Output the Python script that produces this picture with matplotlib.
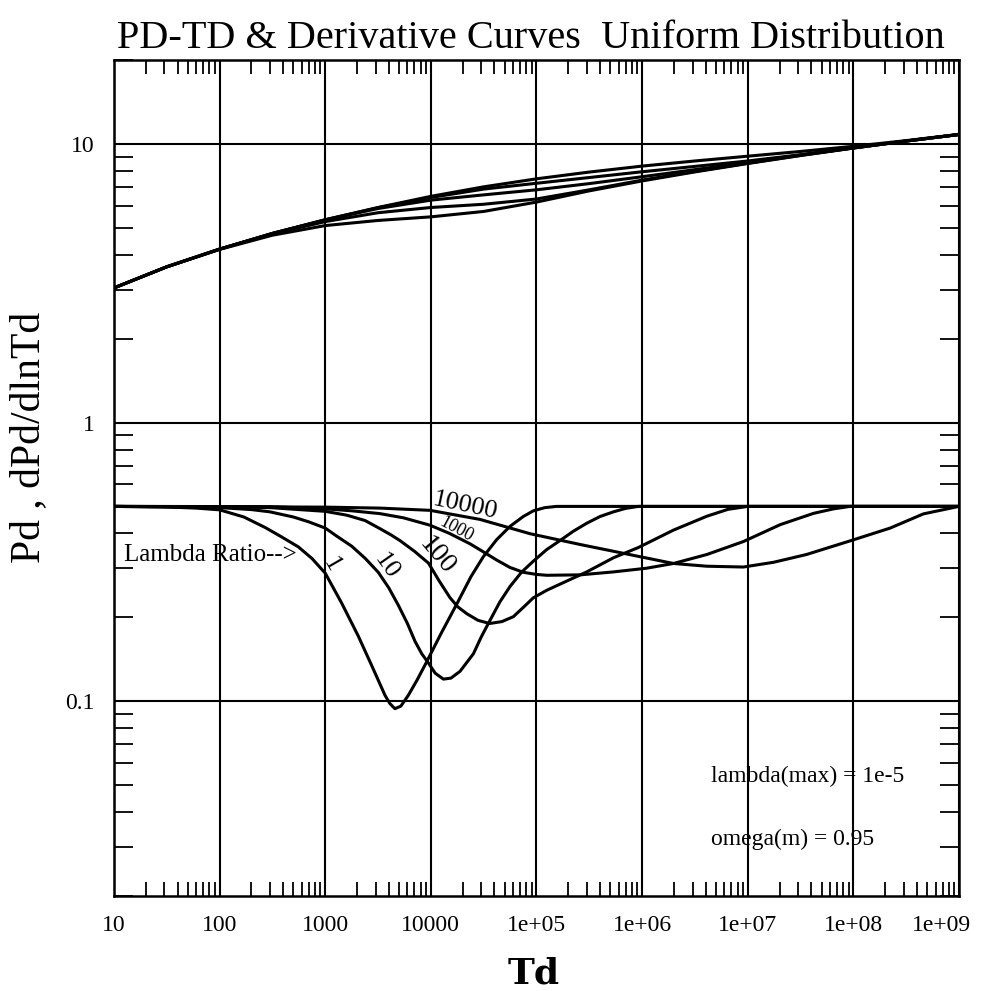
import numpy as np
import matplotlib
matplotlib.use('Agg')
import matplotlib.pyplot as plt
import matplotlib.transforms as mtransforms
from matplotlib.ticker import FixedLocator, LogLocator, NullFormatter

plt.rcParams['font.family'] = ['Liberation Serif', 'DejaVu Serif']

# Pd curves, read at half-decade steps of Td
td_pd = [1e1, 3.16e1, 1e2, 3.16e2, 1e3, 3.16e3, 1e4, 3.16e4, 1e5, 3.16e5,
         1e6, 3.16e6, 1e7, 3.16e7, 1e8, 3.16e8, 1e9]
pd_1 = [3.04, 3.62, 4.18, 4.70, 5.09, 5.31, 5.47, 5.72, 6.18, 6.78,
        7.36, 7.93, 8.50, 9.08, 9.66, 10.23, 10.80]
pd_10 = [3.04, 3.62, 4.19, 4.75, 5.26, 5.66, 5.91, 6.07, 6.34, 6.84,
         7.41, 7.96, 8.52, 9.09, 9.66, 10.23, 10.80]
pd_100 = [3.04, 3.62, 4.19, 4.77, 5.33, 5.86, 6.28, 6.56, 6.84, 7.20,
          7.62, 8.08, 8.58, 9.12, 9.67, 10.24, 10.80]
pd_1000 = [3.04, 3.62, 4.19, 4.77, 5.34, 5.90, 6.42, 6.88, 7.22, 7.57,
           7.94, 8.30, 8.68, 9.14, 9.68, 10.24, 10.80]
pd_10000 = [3.04, 3.62, 4.19, 4.77, 5.34, 5.91, 6.48, 7.01, 7.49, 7.92,
            8.32, 8.68, 9.03, 9.39, 9.80, 10.27, 10.82]

# derivative curves dPd/dlnTd, one Td list per lambda ratio
td_d1 = [10, 30, 60, 100, 170, 270, 380, 556, 750, 1000, 1430, 2060, 2760,
         3680, 4100, 4570, 5200, 6120, 7400, 9000, 12500, 17580, 24000,
         31400, 42000, 56200, 75000, 93400, 120000, 155000, 1e9]
d_1 = [0.500, 0.498, 0.493, 0.486, 0.458, 0.42, 0.39, 0.358, 0.325, 0.288,
       0.225, 0.171, 0.134, 0.105, 0.098, 0.094, 0.096, 0.105, 0.119, 0.137,
       0.175, 0.223, 0.28, 0.33, 0.38, 0.424, 0.46, 0.482, 0.495, 0.50, 0.50]

td_d10 = [10, 100, 200, 300, 500, 700, 1000, 1300, 1780, 2400, 3180, 4000,
          4920, 6000, 7080, 8200, 9490, 11000, 13150, 15500, 18900, 25300,
          30000, 35000, 45000, 56200, 72000, 93400, 125000, 167000, 225000,
          299000, 400000, 535000, 700000, 922000, 1e9]
d_10 = [0.5, 0.495, 0.487, 0.478, 0.458, 0.44, 0.418, 0.39, 0.36, 0.325,
        0.29, 0.255, 0.221, 0.19, 0.164, 0.148, 0.137, 0.126, 0.12, 0.121,
        0.128, 0.148, 0.17, 0.19, 0.227, 0.258, 0.29, 0.318, 0.35, 0.377,
        0.408, 0.435, 0.46, 0.478, 0.492, 0.50, 0.50]

td_d100 = [10, 100, 300, 1000, 1600, 2380, 3300, 4200, 5100, 7000, 9490,
           12000, 15200, 18000, 21900, 28000, 36000, 47000, 60400, 75000,
           93400, 125000, 167000, 299000, 535000, 922000, 1.98e6, 4.1e6,
           6.5e6, 1e7, 1e9]
d_100 = [0.5, 0.499, 0.495, 0.48, 0.465, 0.445, 0.416, 0.395, 0.377, 0.345,
         0.313, 0.27, 0.235, 0.218, 0.206, 0.195, 0.19, 0.193, 0.201, 0.217,
         0.235, 0.25, 0.263, 0.291, 0.327, 0.356, 0.411, 0.461, 0.488,
         0.50, 0.50]

td_d1000 = [10, 300, 1000, 1800, 3300, 5500, 9820, 15000, 23500, 32000,
            42000, 56000, 75200, 100000, 125000, 259000, 535000, 1.1e6,
            1.98e6, 4.1e6, 9.1e6, 2.03e7, 4.19e7, 6.5e7, 9.3e7, 1e9]
d_1000 = [0.5, 0.499, 0.49, 0.482, 0.471, 0.455, 0.428, 0.40, 0.367, 0.342,
          0.321, 0.302, 0.29, 0.285, 0.283, 0.284, 0.291, 0.30, 0.312, 0.336,
          0.374, 0.43, 0.472, 0.49, 0.50, 0.50]

td_d10000 = [10, 1000, 3300, 9820, 29200, 86900, 259000, 955000, 1.98e6,
             4.1e6, 9.1e6, 1.75e7, 3.6e7, 9.3e7, 2.23e8, 4.6e8, 1e9]
d_10000 = [0.5, 0.497, 0.493, 0.484, 0.449, 0.399, 0.365, 0.33, 0.312,
           0.305, 0.303, 0.315, 0.336, 0.376, 0.418, 0.47, 0.5]

x_ticks = [1e1, 1e2, 1e3, 1e4, 1e5, 1e6, 1e7, 1e8, 1e9]
x_labels = ['10', '100', '1000', '10000', '1e+05', '1e+06', '1e+07', '1e+08', '1e+09']
y_ticks = [0.1, 1, 10]
y_labels = ['0.1', '1', '10']

fig = plt.figure(figsize=(9.85, 9.91), dpi=100)
ax = fig.add_axes([0.1157, 0.0959, 0.8579, 0.8436])

lw = 2.2
for pd in [pd_1, pd_10, pd_100, pd_1000, pd_10000]:
    ax.plot(td_pd, pd, color='black', lw=lw)
for t, d in [(td_d1, d_1), (td_d10, d_10), (td_d100, d_100),
             (td_d1000, d_1000), (td_d10000, d_10000)]:
    ax.plot(t, d, color='black', lw=lw, solid_joinstyle='round')

ax.set_xscale('log')
ax.set_yscale('log')
ax.set_xlim(10, 1e9)
ax.set_ylim(0.02, 20)

ax.xaxis.set_major_locator(FixedLocator(x_ticks))
ax.set_xticklabels(x_labels)
ax.yaxis.set_major_locator(FixedLocator(y_ticks))
ax.set_yticklabels(y_labels)
ax.xaxis.set_minor_locator(LogLocator(base=10, subs=np.arange(2, 10), numticks=20))
ax.yaxis.set_minor_locator(LogLocator(base=10, subs=np.arange(2, 10), numticks=20))
ax.xaxis.set_minor_formatter(NullFormatter())
ax.yaxis.set_minor_formatter(NullFormatter())

ax.grid(True, which='major', color='black', lw=1.5)
ax.tick_params(which='major', length=0, labelsize=17, pad=14)
ax.tick_params(which='minor', direction='in', length=10, width=1.3,
               top=True, right=True, bottom=True, left=True)
ax.tick_params(axis='y', which='minor', length=14)
for s in ax.spines.values():
    s.set_linewidth(1.8)

# last x label pulled back inside the figure
last = ax.get_xticklabels()[-1]
last.set_horizontalalignment('right')
last.set_transform(last.get_transform() +
                   mtransforms.ScaledTranslation(12 / 100, 0, fig.dpi_scale_trans))

fig.text(0.539, 0.9516, 'PD-TD & Derivative Curves  Uniform Distribution',
         fontsize=29, ha='center', va='baseline')
fig.text(0.542, 0.018, 'Td', fontsize=26, fontweight='bold', family='DejaVu Serif',
         ha='center', va='center')
fig.text(0.029, 0.559, 'Pd , dPd/dlnTd', fontsize=30, rotation=90,
         ha='center', va='center')

# curve labels
ax.text(540, 0.336, 'Lambda Ratio-->', fontsize=18, ha='right', va='center')
ax.text(1150, 0.31, '1', fontsize=19, ha='center', va='center', rotation=-60)
ax.text(3740, 0.305, '10', fontsize=19, ha='center', va='center', rotation=-55)
ax.text(11380, 0.3315, '100', fontsize=20, ha='center', va='center', rotation=-50)
ax.text(17600, 0.4125, '1000', fontsize=13, ha='center', va='center', rotation=-28)
ax.text(21100, 0.50, '10000', fontsize=19, ha='center', va='center', rotation=-12)

ax.text(4.5e6, 0.0536, 'lambda(max) = 1e-5', fontsize=17, ha='left', va='center')
ax.text(4.5e6, 0.0318, 'omega(m) = 0.95', fontsize=17, ha='left', va='center')

fig.savefig('out.png', dpi=100)
